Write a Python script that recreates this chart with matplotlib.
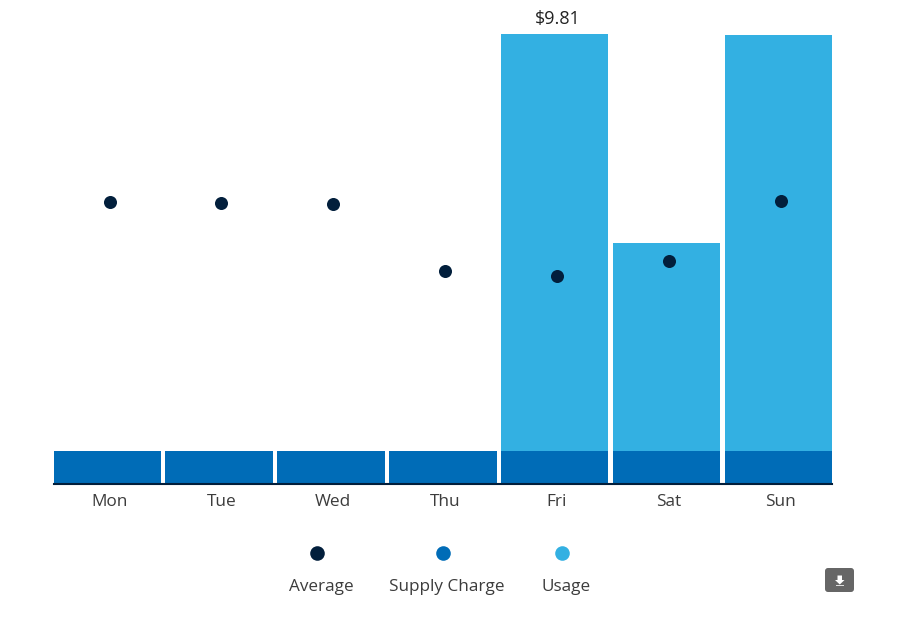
import matplotlib
matplotlib.use('Agg')
import matplotlib.pyplot as plt
from matplotlib.lines import Line2D
from matplotlib.patches import FancyBboxPatch, Polygon, Rectangle

plt.rcParams['font.family'] = ['Open Sans', 'DejaVu Sans']

# Values
days = ['Mon', 'Tue', 'Wed', 'Thu', 'Fri', 'Sat', 'Sun']
supply = [0.72, 0.72, 0.72, 0.72, 0.72, 0.72, 0.72]
usage = [0, 0, 0, 0, 9.09, 4.53, 9.06]
average = [6.15, 6.13, 6.10, 4.64, 4.53, 4.86, 6.16]

W, H = 897, 623
DARK = '#021f3c'
BLUE = '#006cb7'
LIGHT = '#33b0e2'
TEXT = '#3c3c3c'

fig = plt.figure(figsize=(W / 100, H / 100), dpi=100, facecolor='white')
ax = fig.add_axes([53.6 / W, 1 - 484 / H, 783 / W, 450 / H])

# bars start at the left edge of each slot, the dots and labels sit at its centre
x = list(range(len(days)))
left = [i - 0.5 for i in x]
bar_w = 0.96
ax.bar(left, supply, width=bar_w, align='edge', color=BLUE)
ax.bar(left, usage, width=bar_w, align='edge', bottom=supply, color=LIGHT)
ax.scatter(x, average, s=88, color=DARK, zorder=3, linewidths=0)

ax.set_xlim(-0.5, 6.5)
ax.set_ylim(0, 9.81)
ax.set_xticks(x, days)
ax.tick_params(axis='x', length=0, pad=7, labelsize=12.4, labelcolor=TEXT)
ax.set_yticks([])
for side in ['top', 'left', 'right']:
    ax.spines[side].set_visible(False)
ax.spines['bottom'].set_color(DARK)
ax.spines['bottom'].set_linewidth(1.5)
ax.spines['bottom'].set_bounds(-0.5, 5.5 + bar_w)

# label on the tallest bar
ax.annotate('$9.81', (4, supply[4] + usage[4]), xytext=(0.5, 4.3), textcoords='offset points',
            ha='center', va='bottom', fontsize=13, color='#222222', annotation_clip=False,
            parse_math=False)

# legend drawn by hand so the markers sit above the labels
legend_items = [('Average', DARK, 317, 321), ('Supply Charge', BLUE, 442.5, 447), ('Usage', LIGHT, 562, 566)]
for label, color, mx, tx in legend_items:
    fig.add_artist(Line2D([mx / W], [1 - 553 / H], marker='o', markersize=10.5, color=color,
                          markeredgewidth=0, linestyle='none', transform=fig.transFigure))
    fig.text(tx / W, 1 - 587 / H, label, ha='center', va='center', fontsize=12.3, color=TEXT)

# download button
def fx(px):
    return px / W

def fy(py):
    return 1 - py / H

fig.add_artist(FancyBboxPatch((825, H - 592), 29, 24, boxstyle='round,pad=0,rounding_size=3',
                              transform=None, facecolor='#666666', edgecolor='none'))
arrow = [(fx(837.5), fy(575.5)), (fx(842), fy(575.5)), (fx(842), fy(580)), (fx(844.5), fy(580)),
         (fx(839.8), fy(584.5)), (fx(835), fy(580)), (fx(837.5), fy(580))]
fig.add_artist(Polygon(arrow, closed=True, transform=fig.transFigure, facecolor='white', edgecolor='none'))
fig.add_artist(Rectangle((fx(836), fy(586)), 8 / W, 1 / H, transform=fig.transFigure,
                         facecolor='#dddddd', edgecolor='none'))

fig.savefig('out.png', dpi=100)
